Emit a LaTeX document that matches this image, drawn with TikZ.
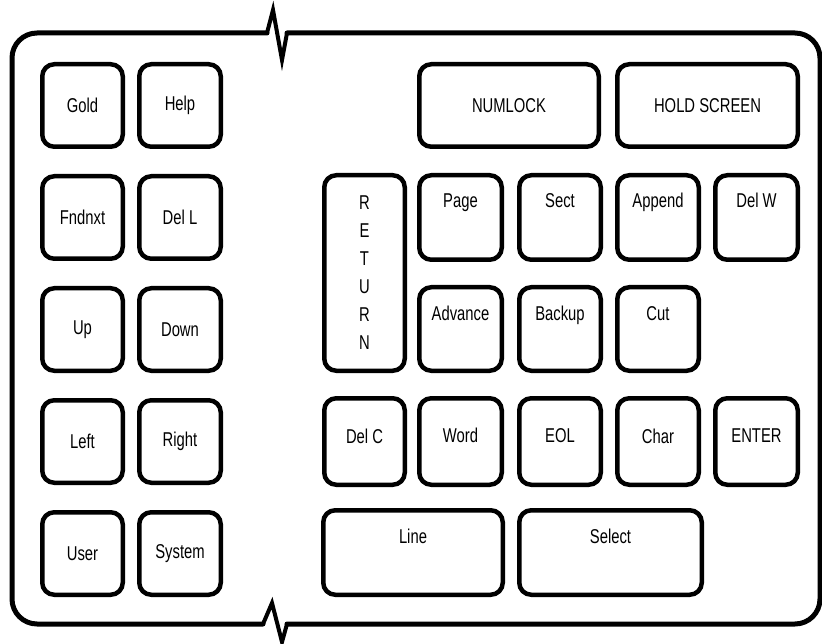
\documentclass[tikz,border=0pt]{standalone}
\usepackage{fontspec}
\setmainfont{Liberation Sans}[FakeStretch=0.74]
\begin{document}
\begin{tikzpicture}[x=1pt,y=-1pt,
  key/.style={draw=black, line width=4.5pt, rounded corners=12pt, inner sep=0pt,
    font=\fontsize{20}{28}\selectfont, align=center},
  keylbl/.style={font=\fontsize{20}{24}\selectfont, inner sep=0pt, anchor=base},
  outer/.style={draw=black, line width=5pt, line cap=round, line join=round},
  zig/.style={draw=black, line width=4pt, line cap=round, line join=miter}]
\useasboundingbox (0,0) rectangle (822,644);
% outer case with break marks
\draw[outer, rounded corners=25pt] (267,33) -- (12,33) -- (12,624) -- (263,624);
\draw[outer, rounded corners=25pt] (287,624) -- (820,624) -- (820,33) -- (287,33);
\draw[zig] (267,33) -- (273,10) -- (282,60) -- (287,33);
\draw[zig] (263,624) -- (272,603) -- (282,642) -- (287,624);
% left block
\node[key, minimum width=80.5pt, minimum height=82.5pt] (gold) at (82.5,105.5) {Gold};
\node[key, minimum width=81.5pt, minimum height=82.5pt] (help) at (180,105.5) {Help};
\node[key, minimum width=80.5pt, minimum height=82.5pt] (fndnxt) at (82.5,217.5) {Fndnxt};
\node[key, minimum width=81.5pt, minimum height=82.5pt] (dell) at (180,217.5) {Del L};
\node[key, minimum width=80.5pt, minimum height=82.5pt] (up) at (82.5,329.5) {Up};
\node[key, minimum width=81.5pt, minimum height=82.5pt] (down) at (180,329.5) {Down};
\node[key, minimum width=80.5pt, minimum height=82.5pt] (left) at (82.5,441.5) {Left};
\node[key, minimum width=81.5pt, minimum height=82.5pt] (right) at (180,441.5) {Right};
\node[key, minimum width=80.5pt, minimum height=82.5pt] (user) at (82.5,553.5) {User};
\node[key, minimum width=81.5pt, minimum height=82.5pt] (system) at (180,553.5) {System};
% right block, top row
\node[key, minimum width=179.5pt, minimum height=82.5pt] (numlock) at (509,105.5) {NUMLOCK};
\node[key, minimum width=180.5pt, minimum height=82.5pt] (hold) at (707.5,105.5) {HOLD SCREEN};
% return key
\node[key, minimum width=80.5pt, minimum height=195.5pt] (return) at (364.5,273) {R\\E\\T\\U\\R\\N};
% row 2
\node[key, minimum width=82.5pt, minimum height=84.5pt,
  label={[keylbl, yshift=-35pt]north:Page}] (page) at (460.5,217.5) {};
\node[key, minimum width=81.5pt, minimum height=84.5pt,
  label={[keylbl, yshift=-35pt]north:Sect}] (sect) at (560,217.5) {};
\node[key, minimum width=81.5pt, minimum height=84.5pt,
  label={[keylbl, yshift=-35pt]north:Append}] (append) at (658,217.5) {};
\node[key, minimum width=82.5pt, minimum height=84.5pt,
  label={[keylbl, yshift=-35pt]north:Del W}] (delw) at (756.5,217.5) {};
% row 3
\node[key, minimum width=82.5pt, minimum height=83.5pt,
  label={[keylbl, yshift=-35pt]north:Advance}] (advance) at (460.5,329) {};
\node[key, minimum width=81.5pt, minimum height=83.5pt,
  label={[keylbl, yshift=-35pt]north:Backup}] (backup) at (560,329) {};
\node[key, minimum width=81.5pt, minimum height=83.5pt,
  label={[keylbl, yshift=-35pt]north:Cut}] (cut) at (658,329) {};
% row 4
\node[key, minimum width=80.5pt, minimum height=86.5pt,
  label={[keylbl, yshift=-47pt]north:Del C}] (delc) at (364.5,441.5) {};
\node[key, minimum width=82.5pt, minimum height=86.5pt,
  label={[keylbl, yshift=-46pt]north:Word}] (word) at (460.5,441.5) {};
\node[key, minimum width=81.5pt, minimum height=86.5pt,
  label={[keylbl, yshift=-46pt]north:EOL}] (eol) at (560,441.5) {};
\node[key, minimum width=81.5pt, minimum height=86.5pt,
  label={[keylbl, yshift=-47pt]north:Char}] (char) at (658,441.5) {};
\node[key, minimum width=82.5pt, minimum height=86.5pt,
  label={[keylbl, yshift=-46pt]north:ENTER}] (enter) at (756.5,441.5) {};
% row 5
\node[key, minimum width=179.5pt, minimum height=84.5pt,
  label={[keylbl, yshift=-35pt]north:Line}] (line) at (413,552.5) {};
\node[key, minimum width=182.5pt, minimum height=84.5pt,
  label={[keylbl, yshift=-35pt]north:Select}] (select) at (610.5,552.5) {};
\end{tikzpicture}
\end{document}
